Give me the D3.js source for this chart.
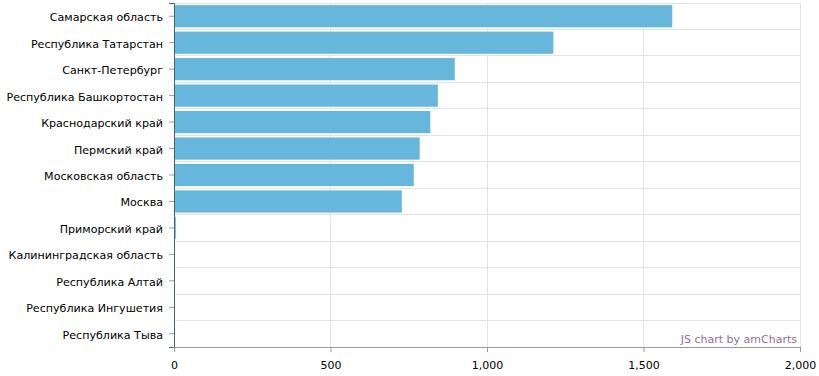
<!DOCTYPE html>
<html>
  <head>
    <meta charset="utf-8" />
    <title>Регионы</title>
    <script src="https://d3js.org/d3.v7.min.js" charset="utf-8"></script>
    <style>
      html,
      body {
        margin: 0;
        padding: 0;
        background-color: #ffffff;
        font-family: "DejaVu Sans", Verdana, sans-serif;
      }
    </style>
  </head>
  <body>
    <svg id="chart"></svg>
    <script>
      // Data
      const regions = [
        "Самарская область",
        "Республика Татарстан",
        "Санкт-Петербург",
        "Республика Башкортостан",
        "Краснодарский край",
        "Пермский край",
        "Московская область",
        "Москва",
        "Приморский край",
        "Калининградская область",
        "Республика Алтай",
        "Республика Ингушетия",
        "Республика Тыва",
      ];
      const values = [1592, 1212, 897, 843, 819, 785, 766, 728, 6, 1, 1, 1, 1];
      const xTicks = [0, 500, 1000, 1500, 2000];

      // SVG size
      const width = 819;
      const height = 376;

      // Margins
      const lmargin = 174;
      const rmargin = 19;
      const tmargin = 3;
      const bmargin = 29;

      const graphWidth = width - lmargin - rmargin;
      const graphHeight = height - tmargin - bmargin;

      const svg = d3
        .select("#chart")
        .attr("width", width)
        .attr("height", height);

      const plotArea = svg
        .append("g")
        .attr("transform", `translate(${lmargin},${tmargin})`);

      const xScale = d3.scaleLinear().domain([0, 2000]).range([0, graphWidth]);

      const yScale = d3
        .scaleBand()
        .domain(regions)
        .range([0, graphHeight])
        .paddingInner(0.16)
        .paddingOuter(0.08);

      const step = yScale.step();

      // Horizontal grid at band boundaries
      plotArea
        .selectAll(".hgrid")
        .data(regions)
        .enter()
        .append("line")
        .attr("class", "hgrid")
        .attr("x1", 0)
        .attr("x2", graphWidth)
        .attr("y1", (d, i) => i * step)
        .attr("y2", (d, i) => i * step)
        .attr("stroke", "#e3e3e3")
        .attr("stroke-width", 1)
        .attr("shape-rendering", "crispEdges");

      // Vertical grid
      plotArea
        .selectAll(".vgrid")
        .data(xTicks.slice(1))
        .enter()
        .append("line")
        .attr("class", "vgrid")
        .attr("x1", (d) => xScale(d))
        .attr("x2", (d) => xScale(d))
        .attr("y1", 0)
        .attr("y2", graphHeight)
        .attr("stroke", "#e3e3e3")
        .attr("shape-rendering", "crispEdges");

      // Bars
      plotArea
        .selectAll("rect")
        .data(values)
        .enter()
        .append("rect")
        .attr("x", 0)
        .attr("y", (d, i) => yScale(regions[i]))
        .attr("width", (d) => xScale(d))
        .attr("height", yScale.bandwidth())
        .style("fill", "#67b7dc");

      // Y axis
      const yAxis = d3.axisLeft(yScale).tickSize(5).tickPadding(6);
      const yG = plotArea.append("g").call(yAxis);
      yG.select(".domain").attr("stroke", "#3a6a7a");
      yG.selectAll(".tick line").attr("stroke", "#999");
      yG.selectAll("text")
        .attr("font-size", 11.1)
        .attr("dy", "0.45em")
        .attr("font-family", "DejaVu Sans, Verdana, sans-serif")
        .attr("fill", "#000");

      // X axis
      const xAxis = d3
        .axisBottom(xScale)
        .tickValues(xTicks)
        .tickFormat(d3.format(","))
        .tickSize(5)
        .tickPadding(9)
        .tickSizeOuter(0);
      const xG = plotArea
        .append("g")
        .attr("transform", `translate(0,${graphHeight})`)
        .call(xAxis);
      xG.select(".domain").attr("stroke", "#999");
      xG.selectAll(".tick line").attr("stroke", "#999");
      xG.selectAll("text")
        .attr("font-size", 11)
        .attr("font-family", "DejaVu Sans, Verdana, sans-serif")
        .attr("fill", "#000");

      // Credit
      svg
        .append("text")
        .attr("x", 797)
        .attr("y", 343)
        .attr("text-anchor", "end")
        .attr("font-size", 11)
        .attr("fill", "#8e6f9f")
        .text("JS chart by amCharts");
    </script>
  </body>
</html>
